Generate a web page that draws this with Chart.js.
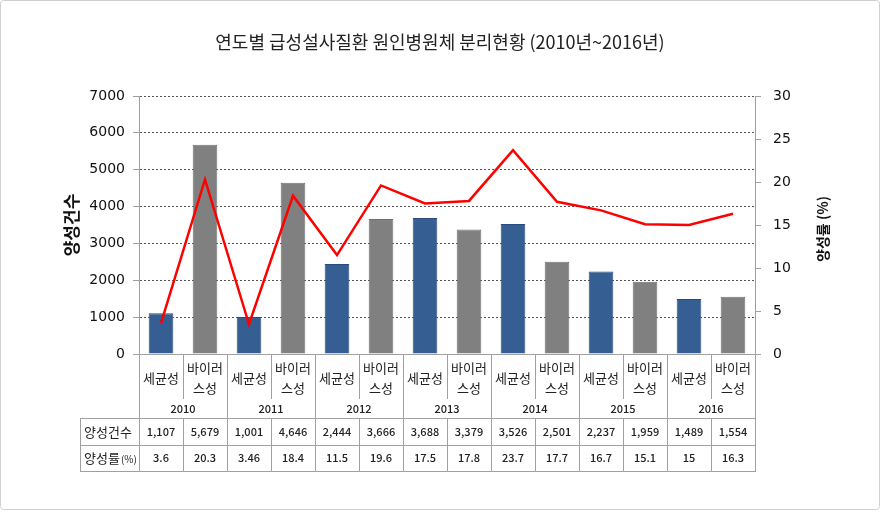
<!DOCTYPE html>
<html>
<head>
<meta charset="utf-8">
<script src="https://cdn.jsdelivr.net/npm/chart.js"></script>
<style>
  body { margin: 0; background: #fff; }
  canvas { display: block; }
</style>
</head>
<body>
<canvas id="chart" width="880" height="510"></canvas>
<script>
// data
const years = ['2010', '2011', '2012', '2013', '2014', '2015', '2016'];
const types = ['세균성', '바이러스성'];
const typeLabels = [['세균성'], ['바이러', '스성']];
const positiveCounts = [1107, 5679, 1001, 4646, 2444, 3666, 3688, 3379, 3526, 2501, 2237, 1959, 1489, 1554];
const positiveRates = [3.6, 20.3, 3.46, 18.4, 11.5, 19.6, 17.5, 17.8, 23.7, 17.7, 16.7, 15.1, 15, 16.3];
const countTicks = [0, 1000, 2000, 3000, 4000, 5000, 6000, 7000];
const rateTicks = [0, 5, 10, 15, 20, 25, 30];

const title = '연도별 급성설사질환 원인병원체 분리현황 (2010년~2016년)';
const leftTitle = '양성건수';
const rightTitle = '양성률 (%)';
const rowHeaders = ['양성건수', '양성률'];

// one category per bar: year + type
const categories = [];
years.forEach(y => types.forEach(t => categories.push(y + ' ' + t)));

const barColors = categories.map((c, i) => i % 2 === 0 ? '#355e93' : '#808080');
const barBorders = categories.map((c, i) => i % 2 === 0 ? '#2b4c7a' : '#707070');

const KR = '"Noto Sans CJK KR", "Noto Sans", sans-serif';
const GRID = '#a0a0a0';

// helper to format 1,107 etc
function fmt(n) {
  return n.toLocaleString('en-US');
}

// draws title, axis titles, category labels and data table
const extrasPlugin = {
  id: 'extras',
  afterDraw(chart) {
    const ctx = chart.ctx;
    const xs = chart.scales.x;
    const area = chart.chartArea;
    const half = (xs.getPixelForValue(1) - xs.getPixelForValue(0)) / 2;
    const tableLeft = 80;
    const rowTop = 418, rowMid = 445, rowBottom = 471;

    ctx.save();

    // frame
    ctx.strokeStyle = '#d0d0d0';
    ctx.lineWidth = 1;
    ctx.beginPath();
    ctx.roundRect(0.5, 0.5, 879, 509, 3);
    ctx.stroke();

    // title
    ctx.fillStyle = '#222';
    ctx.font = '18px ' + KR;
    ctx.textAlign = 'center';
    ctx.textBaseline = 'middle';
    ctx.fillText(title, 440, 42);

    // axis titles, both read bottom-up
    ctx.fillStyle = '#111';
    ctx.save();
    ctx.translate(72, 225);
    ctx.rotate(-Math.PI / 2);
    ctx.font = 'bold 17px ' + KR;
    ctx.fillText(leftTitle, 0, 0);
    ctx.restore();

    ctx.save();
    ctx.translate(823, 229);
    ctx.rotate(-Math.PI / 2);
    ctx.font = 'bold 14px ' + KR;
    ctx.fillText(rightTitle, 0, 0);
    ctx.restore();

    // lines below the axis
    ctx.strokeStyle = GRID;
    ctx.lineWidth = 1;
    ctx.beginPath();
    categories.forEach((c, i) => {
      const right = Math.round(xs.getPixelForValue(i) + half) + 0.5;
      if (i % 2 === 0) {
        ctx.moveTo(right, area.bottom);
        ctx.lineTo(right, 399);
        ctx.moveTo(right, rowTop);
        ctx.lineTo(right, rowBottom);
      } else {
        ctx.moveTo(right, area.bottom);
        ctx.lineTo(right, rowBottom);
      }
    });
    const axisX = Math.round(area.left) + 0.5;
    ctx.moveTo(axisX, area.bottom);
    ctx.lineTo(axisX, rowBottom);
    ctx.moveTo(tableLeft + 0.5, rowTop);
    ctx.lineTo(tableLeft + 0.5, rowBottom);
    [rowTop, rowMid, rowBottom].forEach(y => {
      ctx.moveTo(tableLeft, y + 0.5);
      ctx.lineTo(Math.round(area.right) + 1, y + 0.5);
    });
    ctx.stroke();

    // type labels and years
    ctx.fillStyle = '#222';
    categories.forEach((c, i) => {
      const cx = xs.getPixelForValue(i);
      const lines = typeLabels[i % 2];
      ctx.font = '13px ' + KR;
      if (lines.length === 1) {
        ctx.fillText(lines[0], cx, 378);
      } else {
        ctx.fillText(lines[0], cx, 368);
        ctx.fillText(lines[1], cx, 388);
      }
      ctx.font = '500 11px ' + KR;
      ctx.fillText(fmt(positiveCounts[i]), cx, 432);
      ctx.fillText(String(positiveRates[i]), cx, 458);
    });
    years.forEach((y, k) => {
      const cx = (xs.getPixelForValue(2 * k) + xs.getPixelForValue(2 * k + 1)) / 2;
      ctx.font = '500 11px ' + KR;
      ctx.fillText(y, cx, 409);
    });

    // row headers
    ctx.textAlign = 'left';
    ctx.font = '13px ' + KR;
    ctx.fillText(rowHeaders[0], 84, 432);
    ctx.fillText(rowHeaders[1], 84, 458);
    const w = ctx.measureText(rowHeaders[1]).width;
    ctx.font = '10px ' + KR;
    ctx.fillText('(%)', 84 + w + 1, 459);

    ctx.restore();
  }
};

new Chart(document.getElementById('chart').getContext('2d'), {
  data: {
    labels: categories,
    datasets: [
      {
        type: 'line',
        label: '양성률',
        data: positiveRates,
        yAxisID: 'y1',
        borderColor: '#ff0000',
        borderWidth: 2.5,
        pointRadius: 0,
        tension: 0,
        order: 0
      },
      {
        type: 'bar',
        label: '양성건수',
        data: positiveCounts,
        yAxisID: 'y',
        backgroundColor: barColors,
        borderColor: barBorders,
        borderWidth: 1,
        barPercentage: 0.56,
        categoryPercentage: 1,
        order: 1
      }
    ]
  },
  options: {
    responsive: false,
    animation: false,
    devicePixelRatio: 1,
    layout: { padding: { top: 96, left: 0, right: 0, bottom: 0 } },
    plugins: {
      legend: { display: false },
      tooltip: { enabled: false },
      title: { display: false }
    },
    scales: {
      x: {
        offset: true,
        grid: { display: false },
        ticks: { display: false },
        border: { display: true, color: GRID },
        afterFit: s => { s.height = 156; }
      },
      y: {
        position: 'left',
        min: 0,
        max: 7000,
        afterBuildTicks: s => { s.ticks = countTicks.map(v => ({ value: v })); },
        grid: {
          color: ctx => ctx.tick && ctx.tick.value === 0 ? 'rgba(0,0,0,0)' : '#555',
          tickColor: GRID,
          tickLength: 6,
          tickBorderDash: []
        },
        border: { display: true, color: GRID, dash: [2, 2] },
        ticks: {
          padding: 8,
          color: '#111',
          font: { family: 'DejaVu Sans', size: 14 },
          callback: v => String(v)
        },
        afterFit: s => { s.width = 139; }
      },
      y1: {
        position: 'right',
        min: 0,
        max: 30,
        afterBuildTicks: s => { s.ticks = rateTicks.map(v => ({ value: v })); },
        grid: {
          drawOnChartArea: false,
          tickColor: GRID,
          tickLength: 6
        },
        border: { display: true, color: GRID },
        ticks: {
          padding: 12,
          color: '#111',
          font: { family: 'DejaVu Sans', size: 14 },
          callback: v => String(v)
        },
        afterFit: s => { s.width = 125; }
      }
    }
  },
  plugins: [extrasPlugin]
});
</script>
</body>
</html>
